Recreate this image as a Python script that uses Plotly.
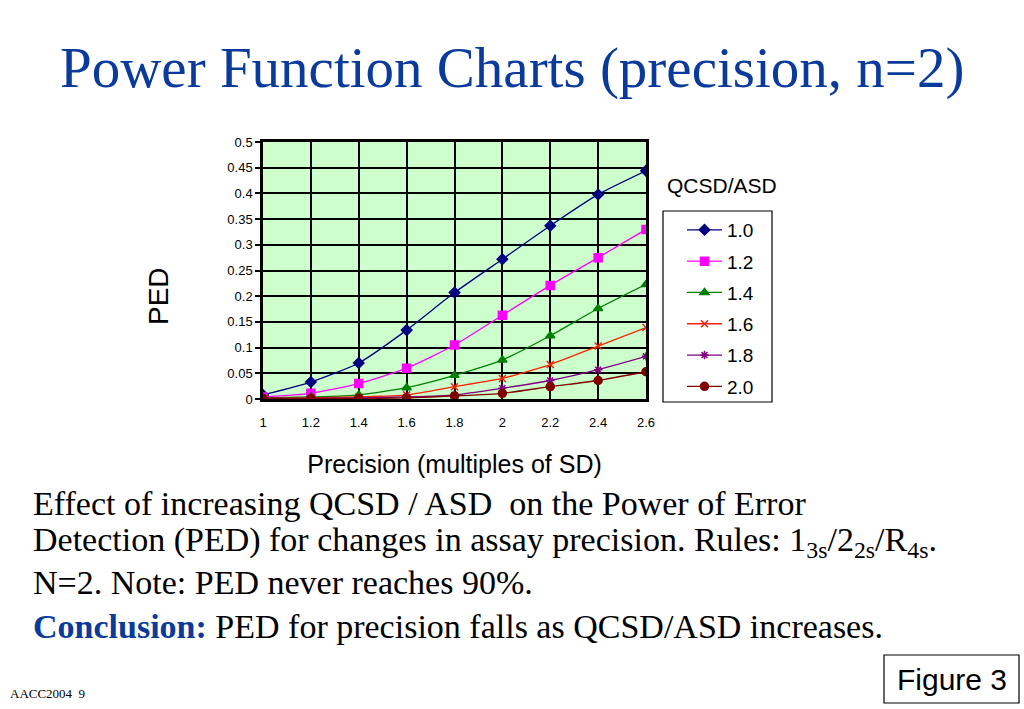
import plotly.graph_objects as go

W, H = 1024, 709
L, R, T, B = 263, 646, 142, 399  # plot area pixels

precision = [1.0, 1.2, 1.4, 1.6, 1.8, 2.0, 2.2, 2.4, 2.6]
ratios = ["1.0", "1.2", "1.4", "1.6", "1.8", "2.0"]
ped_10 = [0.008, 0.033, 0.070, 0.134, 0.207, 0.272, 0.337, 0.398, 0.444]
ped_12 = [0.004, 0.011, 0.030, 0.060, 0.105, 0.163, 0.221, 0.275, 0.330]
ped_14 = [0.002, 0.004, 0.008, 0.022, 0.046, 0.076, 0.123, 0.176, 0.223]
ped_16 = [0.001, 0.002, 0.004, 0.008, 0.024, 0.040, 0.067, 0.103, 0.139]
ped_18 = [0.001, 0.001, 0.002, 0.004, 0.008, 0.021, 0.036, 0.057, 0.083]
ped_20 = [0.001, 0.001, 0.001, 0.002, 0.006, 0.011, 0.024, 0.036, 0.053]
y_ticks = [0, 0.05, 0.1, 0.15, 0.2, 0.25, 0.3, 0.35, 0.4, 0.45, 0.5]
y_ticklabels = ["0", "0.05", "0.1", "0.15", "0.2", "0.25", "0.3", "0.35", "0.4", "0.45", "0.5"]
x_ticklabels = ["1", "1.2", "1.4", "1.6", "1.8", "2", "2.2", "2.4", "2.6"]

series = [ped_10, ped_12, ped_14, ped_16, ped_18, ped_20]
colors = ["#000080", "#ff00ff", "#008000", "#ff2000", "#800080", "#800000"]
symbols = ["diamond", "square", "triangle-up", "x-thin", "asterisk", "circle"]
sizes = [8, 8, 8, 7, 7, 8]


def px(x):
    return (x - L) / (R - L)


def py(y):
    return (B - y) / (B - T)


fig = go.Figure()
for i, (name, vals) in enumerate(zip(ratios, series)):
    fig.add_trace(go.Scatter(
        x=precision, y=vals, name=name, mode="lines+markers",
        line=dict(color=colors[i], width=1.3, shape="spline", smoothing=0.6),
        marker=dict(symbol=symbols[i], size=sizes[i], color=colors[i],
                    line=dict(color=colors[i], width=1.5)),
        legendgroup=name,
    ))

fig.update_layout(
    width=W, height=H,
    margin=dict(l=L, r=W - R, t=T, b=H - B, pad=0),
    paper_bgcolor="white",
    plot_bgcolor="#ccffcc",
    font=dict(family="Liberation Sans, Arial", color="black"),
    showlegend=True,
    legend=dict(
        x=px(682), y=py(211), xanchor="left", yanchor="top",
        borderwidth=0, bgcolor="rgba(0,0,0,0)",
        font=dict(size=19, family="Liberation Sans, Arial"),
        traceorder="grouped", tracegroupgap=3.6,
        itemwidth=35,
    ),
    xaxis=dict(
        range=[1, 2.6], tickvals=precision, ticktext=x_ticklabels,
        showgrid=True, gridcolor="black", gridwidth=1.5,
        showline=True, linecolor="black", linewidth=2.5, mirror=True,
        ticks="outside", ticklen=10, tickcolor="rgba(0,0,0,0)", tickfont=dict(size=13),
        zeroline=False,
        title=dict(text="Precision (multiples of SD)", font=dict(size=25), standoff=27),
    ),
    yaxis=dict(
        range=[0, 0.5], tickvals=y_ticks, ticktext=y_ticklabels,
        showgrid=True, gridcolor="black", gridwidth=1.5,
        showline=True, linecolor="black", linewidth=2.5, mirror=True,
        ticks="outside", ticklen=5, tickcolor="black", tickwidth=1.5,
        tickfont=dict(size=13), zeroline=False,
    ),
)

ann = []
ann.append(dict(text="Power Function Charts (precision, n=2)", x=px(512), y=py(68),
                xref="paper", yref="paper", showarrow=False, xanchor="center", yanchor="middle",
                font=dict(family="Liberation Serif, Times New Roman", size=57, color="#0a3a9c")))
ann.append(dict(text="PED", x=px(158), y=py(296), xref="paper", yref="paper",
                showarrow=False, xanchor="center", yanchor="middle", textangle=-90,
                font=dict(size=28, family="Liberation Sans, Arial")))
ann.append(dict(text="QCSD/ASD", x=px(722), y=py(185), xref="paper", yref="paper",
                showarrow=False, xanchor="center", yanchor="middle",
                font=dict(size=21, family="Liberation Sans, Arial")))
body = [
    ("Effect of increasing QCSD / ASD  on the Power of Error", 503),
    ("Detection (PED) for changes in assay precision. Rules: 1<sub>3s</sub>/2<sub>2s</sub>/R<sub>4s</sub>.", 542),
    ("N=2. Note: PED never reaches 90%.", 582),
    ("<b><span style='color:#0a3a9c'>Conclusion:</span></b> PED for precision falls as QCSD/ASD increases.", 626),
]
for txt, yy in body:
    ann.append(dict(text=txt, x=px(31), y=py(yy), xref="paper", yref="paper",
                    showarrow=False, xanchor="left", yanchor="middle",
                    font=dict(family="Liberation Serif, Times New Roman", size=34, color="black")))
ann.append(dict(text="Figure 3", x=px(952), y=py(680), xref="paper", yref="paper",
                showarrow=False, xanchor="center", yanchor="middle",
                font=dict(family="Liberation Sans, Arial", size=30, color="black")))
ann.append(dict(text="AACC2004  9", x=px(8), y=py(693), xref="paper", yref="paper",
                showarrow=False, xanchor="left", yanchor="middle",
                font=dict(family="Liberation Serif, Times New Roman", size=13, color="black")))
fig.update_layout(annotations=ann)

fig.add_shape(type="rect", xref="paper", yref="paper",
              x0=px(663), x1=px(772), y0=py(211), y1=py(402),
              line=dict(color="black", width=1.2), fillcolor="rgba(0,0,0,0)")
fig.add_shape(type="rect", xref="paper", yref="paper",
              x0=px(884), x1=px(1019), y0=py(655), y1=py(703),
              line=dict(color="black", width=1.2), fillcolor="rgba(0,0,0,0)")

fig.write_html("out.html", config={"displayModeBar": False},
               post_script="document.body.style.margin='0';document.body.style.overflow='hidden';")
